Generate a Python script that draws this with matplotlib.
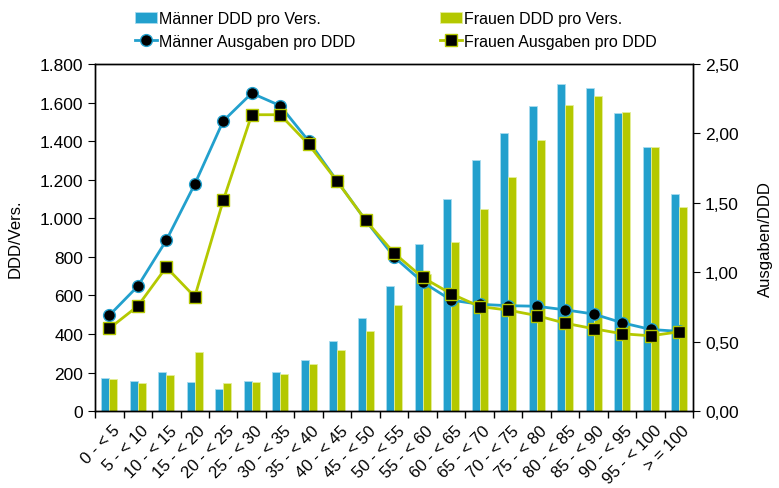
import matplotlib.pyplot as plt
import numpy as np
from matplotlib.ticker import FuncFormatter

plt.rcParams['font.family'] = ['Liberation Sans', 'DejaVu Sans']

altersgruppen = ['0 - < 5', '5 - < 10', '10 - < 15', '15 - < 20', '20 - < 25',
                 '25 - < 30', '30 - < 35', '35 - < 40', '40 - < 45', '45 - < 50',
                 '50 - < 55', '55 - < 60', '60 - < 65', '65 - < 70', '70 - < 75',
                 '75 - < 80', '80 - < 85', '85 - < 90', '90 - < 95', '95 - < 100',
                 '> = 100']

# DDD pro Versichertem
maenner_ddd = [174, 157, 205, 150, 116, 155, 202, 266, 364, 484, 650,
               865, 1100, 1303, 1441, 1580, 1698, 1675, 1547, 1370, 1127]
frauen_ddd = [169, 148, 186, 307, 147, 152, 191, 247, 320, 415, 550,
              710, 878, 1047, 1214, 1407, 1589, 1632, 1553, 1370, 1058]

# Ausgaben pro DDD
maenner_ausg = [0.69, 0.90, 1.23, 1.635, 2.09, 2.29, 2.20, 1.945, 1.657, 1.374, 1.11,
                0.93, 0.80, 0.77, 0.76, 0.756, 0.73, 0.70, 0.637, 0.589, 0.575]
frauen_ausg = [0.596, 0.757, 1.037, 0.824, 1.518, 2.135, 2.135, 1.921, 1.655, 1.374, 1.138,
               0.963, 0.846, 0.754, 0.728, 0.689, 0.634, 0.594, 0.558, 0.543, 0.572]

blau = '#22a0cd'
gruen = '#b4c800'

x = np.arange(len(altersgruppen))
breite = 0.28

fig = plt.figure(figsize=(7.79, 4.89), dpi=100)
ax = fig.add_axes([0.122, 0.157, 0.768, 0.71])
ax2 = ax.twinx()

b1 = ax.bar(x - breite / 2, maenner_ddd, breite, color=blau,
            edgecolor='#a8dcef', linewidth=0.6)
b2 = ax.bar(x + breite / 2, frauen_ddd, breite, color=gruen,
            edgecolor='#e4ee9a', linewidth=0.6)

l1, = ax2.plot(x, maenner_ausg, color=blau, lw=2, marker='o', ms=8.5,
               mfc='black', mec=blau, mew=1)
l2, = ax2.plot(x, frauen_ausg, color=gruen, lw=2, marker='s', ms=8.5,
               mfc='black', mec=gruen, mew=1)

ax.set_xlim(-0.5, len(x) - 0.5)
ax.set_ylim(0, 1800)
ax.set_yticks(np.arange(0, 1801, 200))
ax.yaxis.set_major_formatter(FuncFormatter(lambda v, p: f'{int(v):,}'.replace(',', '.')))
ax2.set_ylim(0, 2.5)
ax2.set_yticks(np.arange(0, 2.51, 0.5))
ax2.yaxis.set_major_formatter(FuncFormatter(lambda v, p: f'{v:.2f}'.replace('.', ',')))

ax.set_xticks(x + 0.1)
ax.set_xticklabels(altersgruppen, rotation=45, ha='right', rotation_mode='anchor')
ax.set_xticks(np.arange(-0.5, len(x), 1), minor=True)
ax.tick_params(axis='x', which='major', length=0, pad=8, labelsize=12)
ax.tick_params(axis='x', which='minor', length=5, width=1)
ax.tick_params(axis='y', length=5, labelsize=12.5)
ax2.tick_params(axis='y', length=5, labelsize=12.5)

ax.set_ylabel('DDD/Vers.', fontsize=12, labelpad=12)
ax2.set_ylabel('Ausgaben/DDD', fontsize=12, labelpad=14)

for a in (ax, ax2):
    for s in a.spines.values():
        s.set_linewidth(1)

fig.legend([b1, l1, b2, l2],
           ['Männer DDD pro Vers.', 'Männer Ausgaben pro DDD',
            'Frauen DDD pro Vers.', 'Frauen Ausgaben pro DDD'],
           loc='upper center', bbox_to_anchor=(0.508, 1.005), ncol=2, frameon=False,
           fontsize=11.5, handlelength=1.4, handletextpad=0.1, columnspacing=5.3,
           labelspacing=0.5)

fig.savefig('out.png', dpi=100)
